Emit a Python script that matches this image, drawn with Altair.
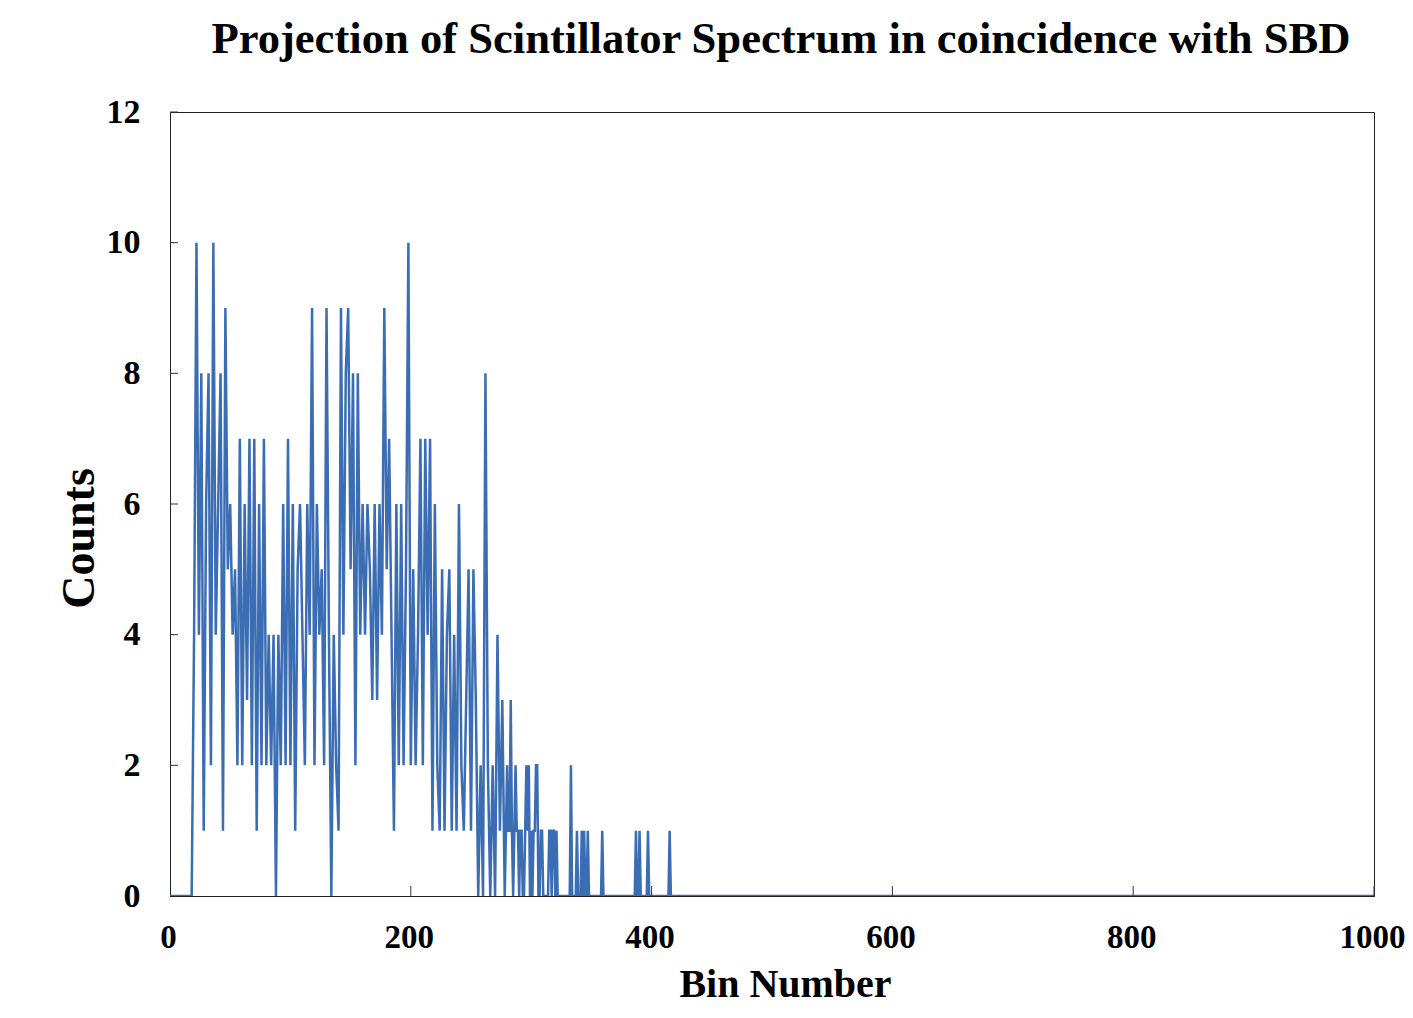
import altair as alt
import pandas as pd

# Dense part of the spectrum, every second bin (0..278)
dense_bins = list(range(0, 280, 2))
dense_counts = [
    0, 0, 0, 0, 0, 0, 0, 0, 0, 0,
    4, 10, 4, 8, 1, 6, 8, 2, 10, 4,
    6, 8, 1, 9, 5, 6, 4, 5, 2, 7,
    2, 6, 3, 7, 2, 7, 1, 6, 2, 7,
    2, 4, 2, 4, 0, 4, 2, 6, 2, 7,
    2, 6, 1, 5, 6, 4, 2, 6, 4, 9,
    2, 6, 4, 5, 2, 9, 4, 0, 4, 2,
    1, 9, 4, 8, 9, 5, 8, 2, 8, 4,
    6, 4, 6, 5, 3, 6, 3, 6, 4, 9,
    5, 7, 4, 1, 6, 2, 6, 2, 5, 10,
    2, 5, 2, 4, 7, 2, 7, 4, 7, 1,
    6, 2, 1, 5, 1, 4, 5, 1, 4, 1,
    6, 2, 1, 3, 5, 1, 5, 3, 0, 2,
    0, 8, 2, 0, 2, 0, 4, 1, 3, 0,
]

# Sparse tail, every bin (279..420)
tail_bins = list(range(279, 421))
tail_counts = [
    1, 2, 1, 1, 3, 1, 0, 1, 2, 1,
    1, 0, 1, 1, 0, 0, 1, 2, 1, 2,
    0, 1, 0, 1, 1, 2, 2, 0, 0, 1,
    1, 0, 0, 0, 0, 0, 1, 1, 0, 1,
    1, 0, 1, 0, 0, 0, 0, 0, 0, 0,
    0, 0, 0, 0, 2, 0, 0, 0, 0, 1,
    0, 0, 0, 1, 0, 1, 0, 0, 1, 0,
    0, 0, 0, 0, 0, 0, 0, 0, 0, 0,
    1, 0, 0, 0, 0, 0, 0, 0, 0, 0,
    0, 0, 0, 0, 0, 0, 0, 0, 0, 0,
    0, 0, 0, 0, 0, 0, 0, 0, 1, 0,
    0, 1, 0, 0, 0, 0, 0, 0, 1, 0,
    0, 0, 0, 0, 0, 0, 0, 0, 0, 0,
    0, 0, 0, 0, 0, 0, 1, 0, 0, 0,
    0, 0,
]

end_bins = [1000]
end_counts = [0]

x_ticks = [200, 400, 600, 800, 1000]
y_ticks = [2, 4, 6, 8, 10, 12]

bins = dense_bins + tail_bins + end_bins
counts = dense_counts + tail_counts + end_counts
df = pd.DataFrame({"bin": bins, "count": counts})

FONT = "Liberation Serif"
W, H = 1204, 784

xscale = alt.Scale(domain=[0, 1000], nice=False)
yscale = alt.Scale(domain=[0, 12], nice=False)

line = alt.Chart(df).mark_line(color="#3a6db3", strokeWidth=2.5, clip=True).encode(
    x=alt.X("bin:Q", scale=xscale,
            axis=alt.Axis(title="Bin Number", values=[0, 200, 400, 600, 800, 1000],
                          ticks=False, grid=False, labelPadding=25, titlePadding=10,
                          labelFlush=False, format="d", titleFontSize=40, titleX=615,
                          labelFontSize=33, labelOffset=-2)),
    y=alt.Y("count:Q", scale=yscale,
            axis=alt.Axis(title="Counts", values=[0, 2, 4, 6, 8, 10, 12],
                          ticks=False, grid=False, labelPadding=30, titlePadding=3,
                          labelFlush=False, format="d", titleFontSize=46, titleY=426)),
)

xt = alt.Chart(pd.DataFrame({"t": x_ticks})).mark_rule(color="#333", strokeWidth=1).encode(
    x=alt.X("t:Q", scale=xscale),
    y=alt.value(H),
    y2=alt.value(H - 10),
)
yt = alt.Chart(pd.DataFrame({"t": y_ticks})).mark_rule(color="#333", strokeWidth=1).encode(
    y=alt.Y("t:Q", scale=yscale),
    x=alt.value(0),
    x2=alt.value(8),
)

chart = alt.layer(line, xt, yt).properties(
    width=W,
    height=H,
    title=alt.Title(
        "Projection of Scintillator Spectrum in coincidence with SBD",
        font=FONT, fontSize=44.6, fontWeight="bold", color="black",
        anchor="middle", offset=32, dx=9,
    ),
    autosize=alt.AutoSizeParams(type="none"),
    padding={"left": 162, "top": 104, "right": 31, "bottom": 110},
).configure_view(
    stroke="#222", strokeWidth=1
).configure_axis(
    labelFont=FONT, labelFontSize=34, labelFontWeight="bold", labelColor="black",
    titleFont=FONT, titleFontWeight="bold", titleColor="black",
    domainColor="#222", domainWidth=1,
)

chart.save("out.html", embed_options={"renderer": "svg", "actions": False})
